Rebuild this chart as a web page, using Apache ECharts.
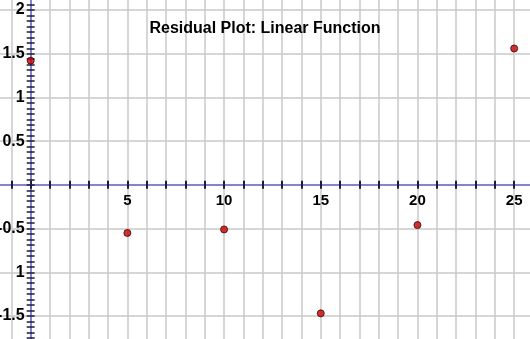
<!DOCTYPE html>
<html>
<head>
<meta charset="utf-8">
<script src="https://cdn.jsdelivr.net/npm/echarts@6/dist/echarts.min.js"></script>
<style>
  html, body { margin: 0; padding: 0; background: #fff; }
  #chart { width: 530px; height: 339px; }
</style>
</head>
<body>
<div id="chart"></div>
<script>
// Residuals of the linear fit at each x value
const xValues = [0, 5, 10, 15, 20, 25];
const residuals = [1.42, -0.55, -0.51, -1.47, -0.46, 1.56];

// Tick labels
const xLabelValues = [5, 10, 15, 20, 25];
const xLabelTexts = ['5', '10', '15', '20', '25'];
const yLabelValues = [-1.5, -1, -0.5, 0.5, 1, 1.5, 2];
const yLabelTexts = ['-1.5', '1', '-0.5', '0.5', '1', '1.5', '2'];

const FONT = '"Liberation Sans", Arial, sans-serif';
const AXIS_BLUE = '#8484cc';
const TICK_DARK = '#1c1c3c';
const GRID_GRAY = '#c8c8c8';

function lookup(values, texts, v) {
  for (let i = 0; i < values.length; i++) {
    if (Math.abs(values[i] - v) < 1e-9) return texts[i];
  }
  return '';
}

// Axis ranges and plot geometry (pixels)
const X_MIN = -2, X_MAX = 26, Y_MIN = -2, Y_MAX = 2.5;
const W = 530, H = 339;
const GRID = { left: -8, right: -3.5, top: -33.7, bottom: -20.7 };
const plotW = W - GRID.left - GRID.right;
const plotH = H - GRID.top - GRID.bottom;
// distance from the grid's bottom / left edge to the zero lines
const zeroFromBottom = plotH * (0 - Y_MIN) / (Y_MAX - Y_MIN);
const zeroFromLeft = plotW * (0 - X_MIN) / (X_MAX - X_MIN);

const tickLine = { show: true, length: 4, lineStyle: { color: TICK_DARK, width: 2 } };
const tickLineThin = { show: true, length: 4, lineStyle: { color: TICK_DARK, width: 1.5 } };
const onZero = { show: true, onZero: true, onZeroAxisIndex: 0, lineStyle: { color: AXIS_BLUE, width: 2 } };
const hiddenZero = { show: false, onZero: true, onZeroAxisIndex: 0 };
const hiddenFree = { show: false, onZero: false };

const chart = echarts.init(document.getElementById('chart'), null, { renderer: 'canvas' });
chart.setOption({
  animation: false,
  backgroundColor: '#ffffff',
  title: {
    text: 'Residual Plot: Linear Function',
    left: 'center',
    top: 16,
    textStyle: { fontFamily: FONT, fontSize: 16, fontWeight: 'bold', color: '#000' }
  },
  grid: Object.assign({ containLabel: false, outerBoundsMode: 'none' }, GRID),
  xAxis: [
    // grid lines, axis line and downward ticks
    {
      type: 'value', position: 'bottom', min: X_MIN, max: X_MAX, interval: 1,
      axisLine: onZero,
      axisTick: Object.assign({ inside: false }, tickLine),
      splitLine: { show: true, lineStyle: { color: GRID_GRAY, width: 1.5 } },
      axisLabel: { show: false }
    },
    // upward ticks
    {
      type: 'value', position: 'top', min: X_MIN, max: X_MAX, interval: 1,
      axisLine: hiddenZero,
      axisTick: Object.assign({ inside: false }, tickLine),
      splitLine: { show: false },
      axisLabel: { show: false }
    },
    // labels sitting under the zero line
    {
      type: 'value', position: 'bottom', offset: -zeroFromBottom,
      min: X_MIN, max: X_MAX, interval: 1,
      axisLine: hiddenFree,
      axisTick: { show: false },
      splitLine: { show: false },
      axisLabel: {
        show: true, margin: 8.5, hideOverlap: false,
        fontFamily: FONT, fontSize: 15, fontWeight: 'bold', color: '#000',
        formatter: v => lookup(xLabelValues, xLabelTexts, v)
      }
    }
  ],
  yAxis: [
    // grid lines and axis line
    {
      type: 'value', position: 'left', min: Y_MIN, max: Y_MAX, interval: 0.5,
      axisLine: onZero,
      axisTick: { show: false },
      splitLine: { show: true, lineStyle: { color: GRID_GRAY, width: 1.5 } },
      axisLabel: { show: false }
    },
    // fine ticks, left side
    {
      type: 'value', position: 'left', min: Y_MIN, max: Y_MAX, interval: 0.0625,
      axisLine: hiddenZero,
      axisTick: Object.assign({ inside: false }, tickLineThin),
      splitLine: { show: false },
      axisLabel: { show: false }
    },
    // fine ticks, right side
    {
      type: 'value', position: 'right', min: Y_MIN, max: Y_MAX, interval: 0.0625,
      axisLine: hiddenZero,
      axisTick: Object.assign({ inside: false }, tickLineThin),
      splitLine: { show: false },
      axisLabel: { show: false }
    },
    // labels left of the zero line
    {
      type: 'value', position: 'left', offset: -zeroFromLeft,
      min: Y_MIN, max: Y_MAX, interval: 0.5,
      axisLine: hiddenFree,
      axisTick: { show: false },
      splitLine: { show: false },
      axisLabel: {
        show: true, margin: 6, hideOverlap: false,
        fontFamily: FONT, fontSize: 16, fontWeight: 'bold', color: '#000',
        formatter: v => lookup(yLabelValues, yLabelTexts, v)
      }
    }
  ],
  series: [
    {
      type: 'scatter',
      xAxisIndex: 0,
      yAxisIndex: 0,
      symbol: 'circle',
      symbolSize: 7,
      z: 10,
      itemStyle: { color: '#c80000', borderColor: '#3a0000', borderWidth: 1 },
      data: xValues.map((x, i) => [x, residuals[i]])
    }
  ]
});
</script>
</body>
</html>
